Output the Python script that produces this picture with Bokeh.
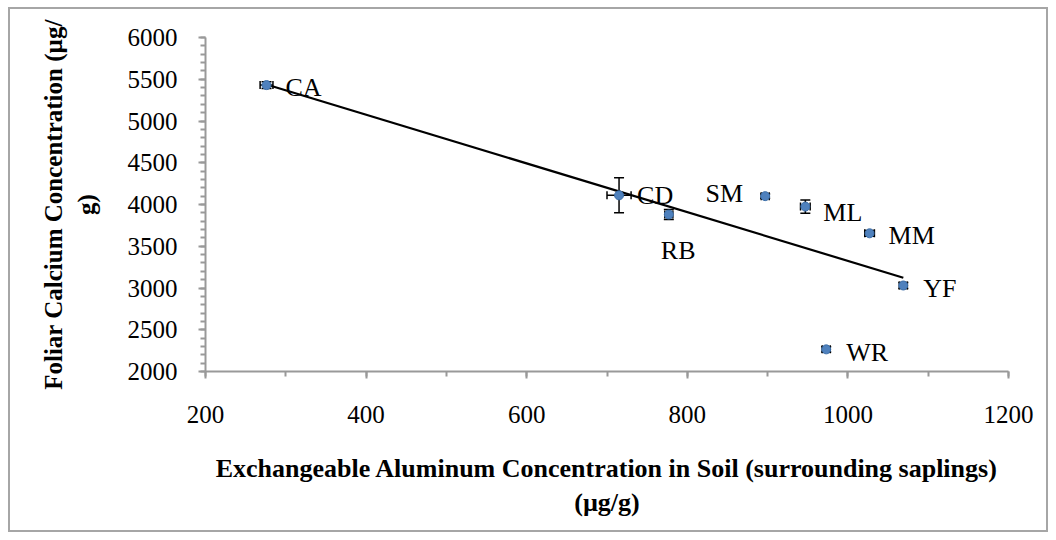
import numpy as np
from bokeh.plotting import figure
from bokeh.models import ColumnDataSource, Whisker, TeeHead, Range1d, SingleIntervalTicker
from bokeh.embed import file_html
from bokeh.resources import INLINE
from bokeh.core.properties import value

# ---- data ----
sites = ["CA", "CD", "RB", "SM", "ML", "MM", "YF", "WR"]
al_soil = [276, 715, 777, 897, 947, 1027, 1069, 973]          # µg/g
ca_foliar = [5430, 4110, 3880, 4100, 3975, 3655, 3030, 2265]   # µg/g
al_err = [8, 15, 5, 5, 6, 6, 5, 5]
ca_err = [40, 210, 60, 25, 80, 35, 35, 30]

x_ticks_major = 200
y_ticks_major = 500

# label placement (style only)
lab_dx = [19, 18, -8, -22, 18, 19, 20, 20]
lab_dy = [2, 0, 36, -3, 6, 2, 3, 3]
lab_align = ["left", "left", "left", "right", "left", "left", "left", "left"]

FONT = "Liberation Serif"

src = ColumnDataSource(dict(
    x=al_soil, y=ca_foliar, site=sites,
    xlo=[a - e for a, e in zip(al_soil, al_err)], xhi=[a + e for a, e in zip(al_soil, al_err)],
    ylo=[c - e for c, e in zip(ca_foliar, ca_err)], yhi=[c + e for c, e in zip(ca_foliar, ca_err)],
    dx=lab_dx, dy=lab_dy, align=lab_align,
))

p = figure(width=1040, height=525, output_backend="svg", toolbar_location=None,
           x_range=Range1d(200, 1200), y_range=Range1d(2000, 6000),
           min_border_left=195, min_border_right=42, min_border_top=28, min_border_bottom=163)
p.styles = {"border": "2px solid #a6a6a6", "margin-left": "8px", "margin-top": "7px"}
p.outline_line_color = None
p.xgrid.visible = False
p.ygrid.visible = False

# trend line (least squares through the data)
m, b = np.polyfit(al_soil, ca_foliar, 1)
xs = np.array([min(al_soil), max(al_soil)])
p.line(xs, m * xs + b, line_color="black", line_width=2.2)

p.scatter("x", "y", source=src, size=9, marker="circle",
          fill_color="#4f81bd", line_color="#3c6ea8", line_width=1)

p.add_layout(Whisker(source=src, base="y", lower="xlo", upper="xhi", dimension="width",
                     line_color="black", line_width=1.5,
                     lower_head=TeeHead(size=8, line_color="black", line_width=1.5),
                     upper_head=TeeHead(size=8, line_color="black", line_width=1.5)))
p.add_layout(Whisker(source=src, base="x", lower="ylo", upper="yhi", dimension="height",
                     line_color="black", line_width=1.5,
                     lower_head=TeeHead(size=10, line_color="black", line_width=1.5),
                     upper_head=TeeHead(size=10, line_color="black", line_width=1.5)))

p.text("x", "y", text="site", source=src, x_offset="dx", y_offset="dy",
       text_align="align", text_baseline="middle",
       text_font=value(FONT), text_font_size="26px", text_color="black")

for ax in (p.xaxis[0], p.yaxis[0]):
    ax.axis_line_color = "#999999"
    ax.axis_line_width = 2
    ax.major_tick_line_color = "#999999"
    ax.minor_tick_line_color = "#999999"
    ax.major_tick_line_width = 2
    ax.minor_tick_line_width = 2
    ax.major_tick_in = 0
    ax.minor_tick_in = 0
    ax.major_tick_out = 7
    ax.minor_tick_out = 5
    ax.major_label_text_font = FONT
    ax.major_label_text_font_size = "25px"
    ax.major_label_text_color = "black"
    ax.axis_label_text_font = FONT
    ax.axis_label_text_font_style = "bold"
    ax.axis_label_text_color = "black"

p.xaxis.ticker = SingleIntervalTicker(interval=x_ticks_major, num_minor_ticks=2)
p.yaxis.ticker = SingleIntervalTicker(interval=y_ticks_major, num_minor_ticks=5)
p.xaxis.major_label_standoff = 27
p.yaxis.major_label_standoff = 21

p.xaxis.axis_label = "Exchangeable Aluminum Concentration in Soil (surrounding saplings)\n(µg/g)"
p.xaxis.axis_label_text_font_size = "26px"
p.xaxis.axis_label_standoff = 28
p.yaxis.axis_label = "Foliar Calcium Concentration (µg/\ng)"
p.yaxis.axis_label_text_font_size = "25px"
p.yaxis.axis_label_standoff = 25

open("out.html", "w").write(file_html(p, INLINE))
